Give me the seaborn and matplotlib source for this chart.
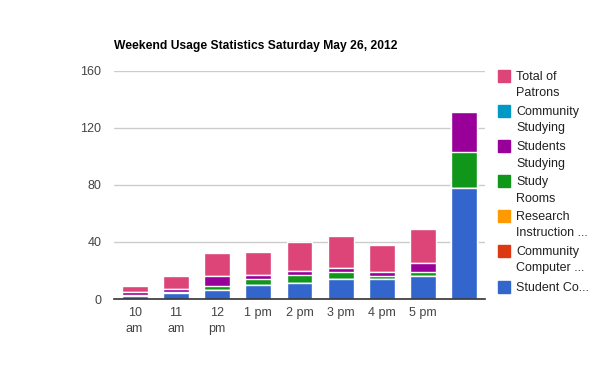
import matplotlib
matplotlib.use("Agg")
import matplotlib.pyplot as plt
import seaborn as sns
import numpy as np
from matplotlib.patches import Rectangle

categories = ["10\nam", "11\nam", "12\npm", "1 pm", "2 pm", "3 pm", "4 pm", "5 pm", ""]
student_computers = [2, 4, 6, 10, 11, 14, 14, 16, 78]
community_computers = [0, 0, 0, 0, 0, 0, 0, 0, 0]
research_instruction = [0, 0, 0, 0, 0, 0, 0, 0, 0]
study_rooms = [1, 1, 3, 4, 6, 5, 2, 3, 25]
students_studying = [2, 2, 7, 3, 3, 3, 3, 6, 28]
community_studying = [0, 0, 0, 0, 0, 0, 0, 0, 0]
total_patrons = [4, 9, 16, 16, 20, 22, 19, 24, 0]

series_names = ["Student Co...", "Community\nComputer ...", "Research\nInstruction ...",
                "Study\nRooms", "Students\nStudying", "Community\nStudying", "Total of\nPatrons"]
series_values = [student_computers, community_computers, research_instruction,
                 study_rooms, students_studying, community_studying, total_patrons]
colors = ["#3366cc", "#dc3912", "#ff9900", "#109618", "#990099", "#0099c6", "#dd4477"]

sns.set_style("white")
plt.rcParams["font.family"] = ["Liberation Sans", "DejaVu Sans"]

fig = plt.figure(figsize=(6.0, 3.71), dpi=100)
ax = fig.add_axes([114 / 600, 1 - 299 / 371, (485 - 114) / 600, (299 - 71) / 371])

cums = np.cumsum(np.array(series_values), axis=0)
# draw from top of stack down so lower segments overlay
for i in range(len(series_values) - 1, -1, -1):
    sns.barplot(x=categories, y=list(cums[i]), color=colors[i], width=0.63,
                edgecolor="white", linewidth=1.0, saturation=1, errorbar=None, ax=ax)

ax.set_ylim(0, 160)
ax.set_xlim(-0.5, len(categories) - 0.5)
ax.set_yticks([0, 40, 80, 120, 160])
ax.yaxis.grid(True, color="#cccccc", linewidth=1)
ax.set_axisbelow(True)
for s in ["top", "right", "left"]:
    ax.spines[s].set_visible(False)
ax.spines["bottom"].set_color("#333333")
ax.spines["bottom"].set_linewidth(1.2)
ax.tick_params(axis="both", length=0, labelsize=9, colors="#444444")
ax.tick_params(axis="y", pad=9)
ax.tick_params(axis="x", pad=6)
for lab in ax.get_xticklabels():
    lab.set_linespacing(1.45)
ax.set_xlabel("")
ax.set_ylabel("")

fig.text(114 / 600, 1 - 46 / 371, "Weekend Usage Statistics Saturday May 26, 2012",
         fontsize=8.7, fontweight="bold", va="center", ha="left", color="#000000")

# legend (top to bottom = reverse of stack)
ys = [76, 111, 146, 181, 216, 251, 287]
for k, idx in enumerate(range(len(series_names) - 1, -1, -1)):
    y = ys[k]
    fig.patches.append(Rectangle((498 / 600, 1 - (y + 6) / 371), 12 / 600, 12 / 371,
                                 transform=fig.transFigure, color=colors[idx]))
    fig.text(516 / 600, 1 - (y - 5) / 371, series_names[idx], fontsize=9,
             va="top", ha="left", color="#222222", linespacing=1.5)

fig.savefig("out.png", dpi=100)
